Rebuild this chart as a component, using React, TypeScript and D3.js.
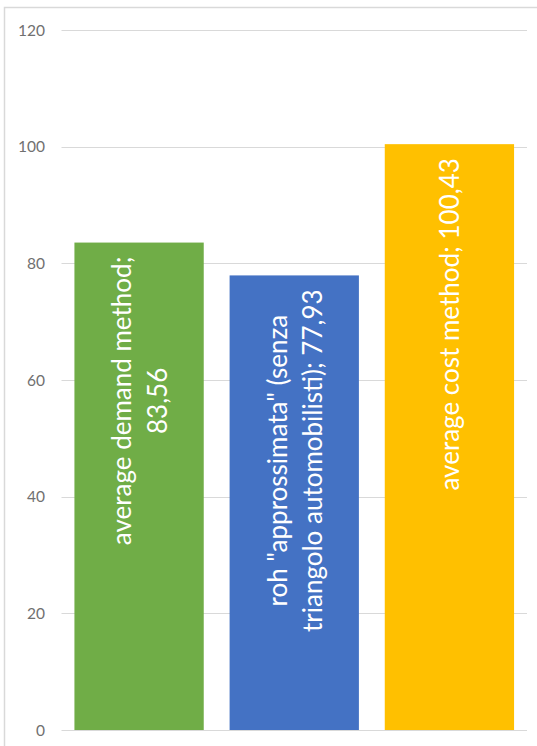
import React, { useEffect, useRef } from "react";
import * as d3 from "d3";

// Chart data
const categories = [
  "average demand method",
  'roh "approssimata" (senza triangolo automobilisti)',
  "average cost method",
];
const values = [83.56, 77.93, 100.43];
const colors = ["#70AD47", "#4472C4", "#FFC000"];
const yTicks = [0, 20, 40, 60, 80, 100, 120];
// Data label line layout per bar; {v} is replaced with the formatted value
const labelTemplates = [
  ["average demand method;", "{v}"],
  ['roh "approssimata" (senza', "triangolo automobilisti); {v}"],
  ["average cost method; {v}"],
];

const W = 537;
const H = 746;
const FONT = "Lato, 'Open Sans', sans-serif";

const formatValue = (v: number) => v.toFixed(2).replace(".", ",");

export default function App() {
  const ref = useRef<SVGSVGElement | null>(null);

  useEffect(() => {
    const svg = d3.select(ref.current);
    svg.selectAll("*").remove();

    const plot = { left: 61.5, right: 527, top: 30, bottom: 730 };

    const x = d3
      .scaleBand<string>()
      .domain(categories)
      .range([plot.left, plot.right])
      .paddingInner(1 / 6)
      .paddingOuter(1 / 12);

    const y = d3.scaleLinear().domain([0, 120]).range([plot.bottom, plot.top]);

    // chart area frame
    svg
      .append("rect")
      .attr("x", 4.5)
      .attr("y", 7.5)
      .attr("width", W + 20)
      .attr("height", H + 20)
      .attr("fill", "#fff")
      .attr("stroke", "#D9D9D9")
      .attr("stroke-width", 1.5);

    // gridlines
    svg
      .append("g")
      .selectAll("line")
      .data(yTicks)
      .join("line")
      .attr("x1", plot.left)
      .attr("x2", plot.right)
      .attr("y1", (d) => Math.round(y(d)) + 0.5)
      .attr("y2", (d) => Math.round(y(d)) + 0.5)
      .attr("stroke", "#D9D9D9")
      .attr("stroke-width", 1);

    // y tick labels
    svg
      .append("g")
      .selectAll("text")
      .data(yTicks)
      .join("text")
      .attr("x", 45)
      .attr("y", (d) => y(d))
      .attr("dy", "0.36em")
      .attr("text-anchor", "end")
      .attr("font-family", FONT)
      .attr("font-size", 15.5)
      .attr("fill", "#707070")
      .text((d) => String(d));

    // bars
    svg
      .append("g")
      .selectAll("rect")
      .data(categories)
      .join("rect")
      .attr("x", (d) => x(d)!)
      .attr("width", x.bandwidth())
      .attr("y", (_, i) => y(values[i]))
      .attr("height", (_, i) => y(0) - y(values[i]))
      .attr("fill", (_, i) => colors[i]);

    // rotated data labels inside the bar end
    const fontSize = 26;
    const lineGap = 35.5;
    categories.forEach((c, i) => {
      const lines = labelTemplates[i].map((t) =>
        t.replace("{v}", formatValue(values[i]))
      );
      const cx = x(c)! + x.bandwidth() / 2;
      const top = y(values[i]);
      const g = svg.append("g");
      const texts = lines.map((ln, j) => {
        const baseX = cx + 10 + (j - (lines.length - 1) / 2) * lineGap;
        return g
          .append("text")
          .attr("font-family", FONT)
          .attr("font-size", fontSize)
          .attr("fill", "#fff")
          .attr("text-anchor", "middle")
          .attr("data-x", baseX)
          .text(ln);
      });
      const maxLen = d3.max(texts, (t) =>
        (t.node() as SVGTextElement).getComputedTextLength()
      ) as number;
      const centerY = top + 14 + maxLen / 2;
      texts.forEach((t) => {
        const bx = +t.attr("data-x");
        t.attr("transform", `translate(${bx},${centerY}) rotate(-90)`);
      });
    });
  }, []);

  return (
    <svg
      ref={ref}
      width={W}
      height={H}
      style={{ position: "absolute", left: 0, top: 0, display: "block" }}
    />
  );
}
